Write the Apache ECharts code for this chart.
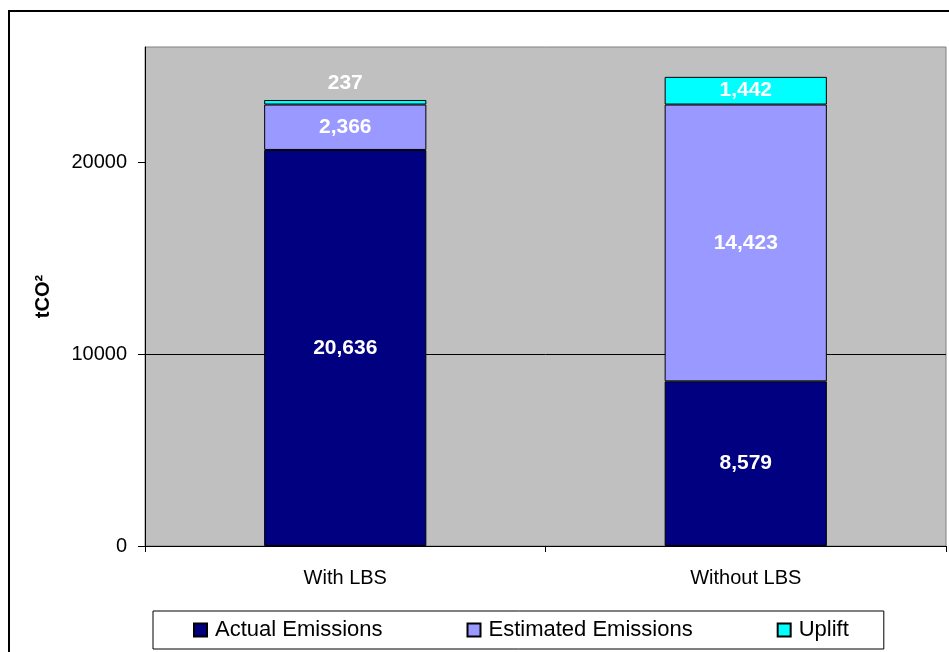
<!DOCTYPE html>
<html>
<head>
<meta charset="utf-8">
<script src="https://cdn.jsdelivr.net/npm/echarts@6/dist/echarts.min.js"></script>
<style>
  html, body { margin: 0; padding: 0; background: #fff; }
  #chart { width: 949px; height: 652px; }
</style>
</head>
<body>
<div id="chart"></div>
<script>
const categories = ['With LBS', 'Without LBS']
const actualEmissions = [20636, 8579]
const estimatedEmissions = [2366, 14423]
const uplift = [237, 1442]
const yTicks = [0, 10000, 20000]

const myChart = echarts.init(document.getElementById('chart'))

const FONT = 'Arial, Liberation Sans, sans-serif'
const fmt = p => Number(p.value).toLocaleString('en-US')

const labelStyle = {
  show: true,
  position: 'inside',
  color: '#fff',
  fontFamily: FONT,
  fontWeight: 'bold',
  fontSize: 21,
  formatter: fmt
}

const barBorder = { borderColor: '#000', borderWidth: 1 }

const option = {
  animation: false,
  textStyle: { fontFamily: FONT },
  graphic: [
    {
      type: 'rect',
      shape: { x: 9, y: 11, width: 960, height: 680 },
      style: { fill: 'none', stroke: '#000', lineWidth: 2 },
      z: -10
    }
  ],
  grid: {
    left: 145,
    right: 3,
    top: 47,
    bottom: 106,
    show: true,
    backgroundColor: '#C0C0C0',
    borderColor: '#808080',
    borderWidth: 1
  },
  legend: {
    left: 153,
    top: 611,
    icon: 'rect',
    itemWidth: 13,
    itemHeight: 13,
    itemGap: 84,
    padding: [8, 35, 8, 40],
    borderColor: '#000',
    borderWidth: 1,
    backgroundColor: '#fff',
    textStyle: { color: '#000', fontSize: 22, fontFamily: FONT, padding: [0, 0, 0, 3] },
    data: ['Actual Emissions', 'Estimated Emissions', 'Uplift']
  },
  xAxis: {
    type: 'category',
    data: categories,
    axisLine: { lineStyle: { color: '#000', width: 1 } },
    axisTick: { show: true, length: 6, lineStyle: { color: '#000' } },
    axisLabel: { color: '#000', fontSize: 20, fontFamily: FONT, margin: 22 }
  },
  yAxis: {
    type: 'value',
    min: 0,
    max: 26000,
    interval: 10000,
    name: 'tCO²',
    nameLocation: 'middle',
    nameRotate: 90,
    nameGap: 92,
    nameTextStyle: { color: '#000', fontWeight: 'bold', fontSize: 20, fontFamily: FONT },
    axisLine: { show: true, lineStyle: { color: '#000', width: 1 } },
    axisTick: { show: true, length: 7, customValues: yTicks, lineStyle: { color: '#000' } },
    axisLabel: {
      color: '#000',
      fontSize: 20,
      fontFamily: FONT,
      margin: 18,
      customValues: yTicks,
      formatter: v => String(v)
    },
    splitLine: { show: true, showMaxLine: false, lineStyle: { color: '#000', width: 1 } }
  },
  series: [
    {
      name: 'Actual Emissions',
      type: 'bar',
      stack: 'total',
      barWidth: '40.5%',
      itemStyle: Object.assign({ color: '#000080' }, barBorder),
      label: labelStyle,
      data: actualEmissions
    },
    {
      name: 'Estimated Emissions',
      type: 'bar',
      stack: 'total',
      itemStyle: Object.assign({ color: '#9999FF' }, barBorder),
      label: labelStyle,
      data: estimatedEmissions
    },
    {
      name: 'Uplift',
      type: 'bar',
      stack: 'total',
      itemStyle: Object.assign({ color: '#00FFFF' }, barBorder),
      label: labelStyle,
      data: uplift.map((v, i) =>
        i === 0
          ? { value: v, label: { position: 'top', distance: 6 } }
          : v
      )
    }
  ]
}

myChart.setOption(option)
</script>
</body>
</html>
